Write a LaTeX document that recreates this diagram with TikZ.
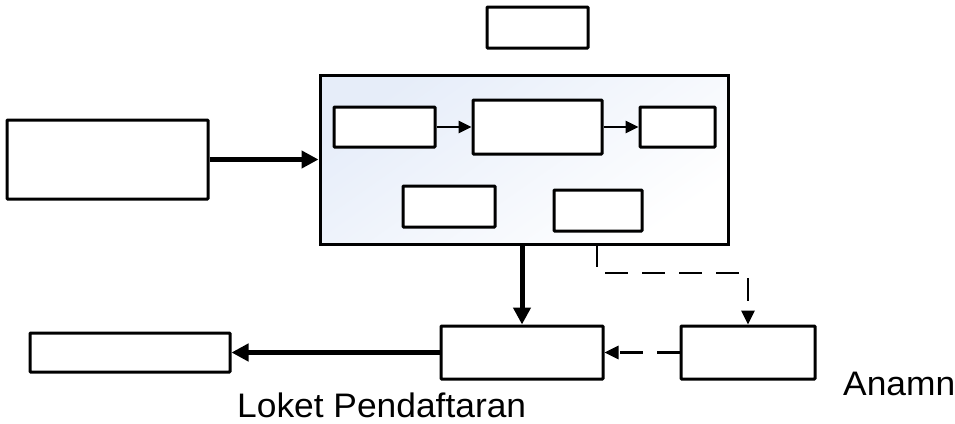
\documentclass[tikz,border=0pt]{standalone}
\usepackage{fontspec}
\setmainfont{Liberation Sans}[FakeStretch=1.04]
\usetikzlibrary{arrows.meta}
\definecolor{panelblue}{RGB}{230,237,249}
\begin{document}
\begin{tikzpicture}[x=1pt,y=-1pt,
  box/.style={draw=black,line width=3pt,fill=white,inner sep=0pt,rounded corners=0.8pt},
  thickarrow/.style={line width=5pt,-{Triangle[length=17pt,width=17pt]}},
  thinarrow/.style={line width=2.6pt,-{Triangle[length=13pt,width=12pt]}},
  dasharrow/.style={line width=2.8pt,dash pattern=on 23pt off 14pt,-{Triangle[length=14pt,width=13pt]}},
  lbl/.style={font=\fontsize{34}{40}\selectfont,inner sep=0pt,anchor=base west}]
\useasboundingbox (0,0) rectangle (955,423);
% top small box
\node[box,minimum width=101pt,minimum height=41pt] (top) at (537.5,27.5) {};
% big panel
\node[draw=black,line width=3pt,inner sep=0pt,minimum width=408pt,minimum height=169pt,
  top color=panelblue,bottom color=white,shading angle=35] (big) at (524,159.5) {};
\node[box,minimum width=101pt,minimum height=40pt] (a) at (384.5,127) {};
\node[box,minimum width=129pt,minimum height=54pt] (b) at (537.5,127) {};
\node[box,minimum width=75pt,minimum height=40pt] (c) at (677.5,127) {};
\node[box,minimum width=92pt,minimum height=41pt] (d) at (449,206.5) {};
\node[box,minimum width=88pt,minimum height=41pt] (e) at (598,210.5) {};
% left box
\node[box,minimum width=201pt,minimum height=79pt] (left) at (107.5,159.5) {};
% bottom boxes
\node[box,minimum width=200pt,minimum height=39pt] (bl) at (130,352.5) {};
\node[box,minimum width=162pt,minimum height=53pt] (bm) at (522,352.5) {};
\node[box,minimum width=134pt,minimum height=53pt] (br) at (748,352.5) {};
% connectors
\draw[thickarrow] (left.east) -- (big.west);
\draw[thinarrow] (a.east) -- (b.west);
\draw[thinarrow] (b.east) -- (c.west);
\draw[thickarrow] (bm.north |- big.south) -- (bm.north);
\coordinate (dstart) at (597,244);
\draw[dasharrow] (dstart) -- (597,273) -- (br.north |- 0,273) -- (br.north);
\draw[dasharrow] (br.west) -- (bm.east);
\draw[thickarrow] (bm.west) -- (bl.east);
% labels
\node[lbl] (loket) at (237,417) {Loket Pendaftaran};
\node[lbl] (anam) at (843,395) {Anamn};
\end{tikzpicture}
\end{document}
